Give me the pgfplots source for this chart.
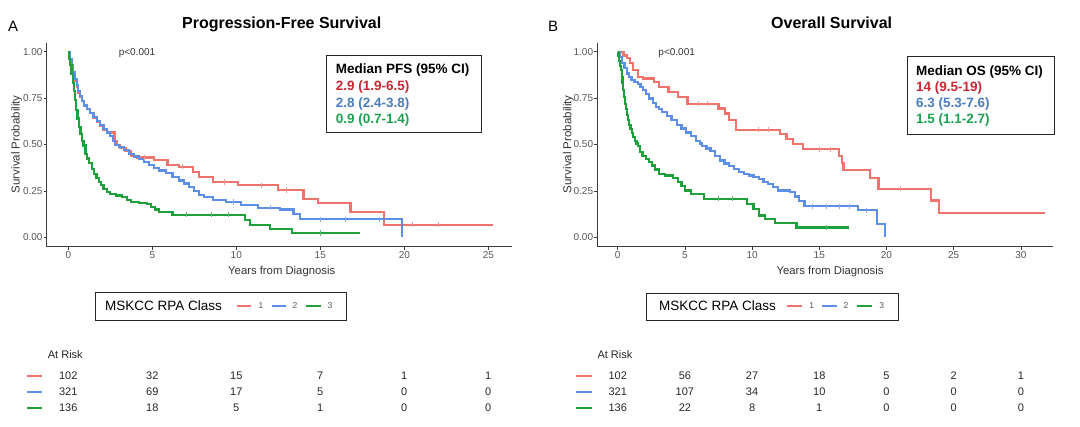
\documentclass[border=0pt]{standalone}
\usepackage{pgfplots}
\pgfplotsset{compat=1.18}
\usepackage{fontspec}
\setmainfont{Liberation Sans}
\definecolor{cR}{RGB}{240,116,110}
\definecolor{cB}{RGB}{94,143,230}
\definecolor{cG}{RGB}{30,160,60}
\definecolor{tR}{RGB}{200,40,50}
\definecolor{tB}{RGB}{75,125,190}
\definecolor{tG}{RGB}{30,160,80}
\definecolor{axg}{RGB}{60,60,60}
\definecolor{tkg}{RGB}{85,85,85}

\pgfplotstableread{
t s
0 1.00
0.1 0.96
0.2 0.92
0.3 0.88
0.4 0.845
0.5 0.81
0.6 0.78
0.7 0.755
0.8 0.735
0.95 0.71
1.1 0.69
1.3 0.67
1.5 0.645
1.7 0.62
1.9 0.60
2.1 0.58
2.3 0.565
2.75 0.52
2.9 0.497
3.1 0.48
3.4 0.465
3.75 0.44
4.1 0.43
5.1 0.415
5.9 0.39
6.6 0.38
7.4 0.35
7.8 0.325
8.6 0.298
10.1 0.281
12.5 0.255
14.0 0.208
14.85 0.185
16.8 0.138
18.8 0.068
25.3 0.068
}\pfsR
\pgfplotstableread{
t s
0 1.00
0.1 0.96
0.2 0.93
0.3 0.89
0.4 0.855
0.5 0.82
0.6 0.79
0.7 0.76
0.8 0.735
0.95 0.71
1.1 0.69
1.3 0.67
1.5 0.65
1.7 0.625
1.9 0.605
2.1 0.585
2.3 0.565
2.5 0.545
2.65 0.52
2.8 0.497
3.0 0.485
3.3 0.47
3.6 0.45
3.9 0.435
4.2 0.42
4.5 0.405
4.8 0.39
5.1 0.375
5.4 0.36
5.8 0.345
6.2 0.325
6.6 0.306
6.9 0.29
7.2 0.27
7.5 0.25
7.8 0.23
8.1 0.215
8.6 0.203
9.4 0.19
10.3 0.176
11.3 0.159
12.6 0.15
13.4 0.124
13.8 0.098
19.85 0.0
}\pfsB
\pgfplotstableread{
t s
0 1.00
0.05 0.96
0.10 0.93
0.19 0.88
0.26 0.83
0.33 0.79
0.40 0.74
0.48 0.685
0.55 0.64
0.63 0.595
0.73 0.555
0.83 0.52
0.90 0.495
1.02 0.45
1.12 0.425
1.25 0.40
1.40 0.37
1.54 0.34
1.68 0.32
1.83 0.30
1.95 0.28
2.10 0.26
2.30 0.245
2.50 0.234
2.85 0.225
3.20 0.216
3.50 0.20
3.75 0.19
4.20 0.183
4.70 0.178
4.90 0.162
5.15 0.15
5.40 0.135
6.20 0.122
10.50 0.093
10.80 0.068
12.00 0.046
13.30 0.023
17.35 0.023
}\pfsG
\pgfplotstableread{
t s
0 1.00
0.43 0.98
0.67 0.964
0.91 0.937
1.15 0.90
1.50 0.865
1.87 0.856
2.70 0.838
3.06 0.81
3.78 0.784
4.50 0.757
5.20 0.72
7.50 0.694
8.00 0.667
8.30 0.63
8.80 0.58
12.10 0.555
12.56 0.53
13.05 0.503
13.80 0.475
16.46 0.44
16.70 0.40
16.80 0.362
18.80 0.318
19.40 0.261
23.30 0.198
23.90 0.13
31.80 0.13
}\osR
\pgfplotstableread{
t s
0 1.00
0.15 0.97
0.31 0.937
0.5 0.91
0.67 0.883
0.85 0.865
1.03 0.847
1.25 0.838
1.50 0.825
1.7 0.81
1.87 0.795
2.1 0.77
2.34 0.748
2.6 0.725
2.82 0.703
3.05 0.69
3.30 0.676
3.65 0.655
4.00 0.63
4.4 0.605
4.74 0.586
5.1 0.565
5.45 0.545
5.8 0.52
6.1 0.505
6.3 0.49
6.6 0.478
6.9 0.465
7.25 0.44
7.60 0.414
7.95 0.398
8.30 0.382
8.65 0.366
9.00 0.351
9.40 0.34
9.76 0.333
10.10 0.325
10.50 0.315
10.85 0.30
11.20 0.288
11.55 0.27
11.90 0.252
12.80 0.244
13.20 0.22
13.50 0.194
13.90 0.168
17.90 0.145
19.30 0.07
19.90 0.0
}\osB
\pgfplotstableread{
t s
0 1.00
0.06 0.975
0.12 0.95
0.18 0.925
0.24 0.90
0.30 0.865
0.36 0.83
0.42 0.795
0.48 0.757
0.55 0.72
0.62 0.69
0.70 0.66
0.79 0.63
0.87 0.605
0.95 0.585
1.05 0.56
1.15 0.54
1.28 0.52
1.40 0.505
1.50 0.49
1.63 0.46
1.85 0.44
2.10 0.423
2.35 0.405
2.58 0.387
2.80 0.365
3.06 0.342
3.54 0.333
4.10 0.32
4.50 0.297
4.75 0.275
5.00 0.252
5.45 0.234
6.40 0.207
9.64 0.18
10.10 0.153
10.50 0.117
10.96 0.099
11.70 0.078
13.30 0.053
17.20 0.053
}\osG

\begin{document}
\begin{tikzpicture}[x=1pt,y=1pt]
\path[use as bounding box] (0,0) rectangle (1080,427);
\pgfplotsset{
  km/.style={
    scale only axis, anchor=south west, height=204pt,
    ymin=-0.0506, ymax=1.0485,
    axis x line*=bottom, axis y line*=left,
    axis line style={-, axg, line width=0.8pt},
    tick align=outside, major tick length=3pt,
    tick style={axg, line width=0.7pt},
    ytick={0,0.25,0.5,0.75,1},
    yticklabels={0.00,0.25,0.50,0.75,1.00},
    /pgf/number format/assume math mode=true,
    ticklabel style={font=\fontsize{10}{12}\selectfont, text=tkg},
    yticklabel style={inner xsep=1pt},
    xticklabel style={inner ysep=2pt},
    clip=false,
  },
  kml/.style={const plot mark left, no marks, line width=2.2pt, line join=miter},
  cens/.style={only marks, mark=|, mark size=2.6pt, mark options={line width=0.7pt}},
}
% ---------------- Panel A ----------------
\begin{axis}[km, at={(46.7pt,180.3pt)}, width=465.3pt,
  xmin=-1.286, xmax=26.41, xtick={0,5,10,15,20,25}]
\addplot[kml, cR] table[x=t,y=s]{\pfsR};
\addplot[kml, cB] table[x=t,y=s]{\pfsB};
\addplot[kml, cG] table[x=t,y=s]{\pfsG};
\addplot[cens, cR!75] coordinates {(4.5,0.43) (6.8,0.38) (9.3,0.298) (11.5,0.281) (13.0,0.255) (20.5,0.068) (22,0.068)};
\addplot[cens, cB!75] coordinates {(9.8,0.19) (12.0,0.159) (15.0,0.098) (16.5,0.098) (18.5,0.098)};
\addplot[cens, cG!75] coordinates {(7.0,0.122) (8.5,0.122) (9.5,0.122) (15.0,0.023)};
\end{axis}
% ---------------- Panel B ----------------
\begin{axis}[km, at={(597.3pt,180.3pt)}, width=455.7pt,
  xmin=-1.518, xmax=32.39, xtick={0,5,10,15,20,25,30}]
\addplot[kml, cR] table[x=t,y=s]{\osR};
\addplot[kml, cB] table[x=t,y=s]{\osB};
\addplot[kml, cG] table[x=t,y=s]{\osG};
\addplot[cens, cR!75] coordinates {(6.0,0.72) (6.7,0.72) (10.5,0.58) (11.2,0.58) (15.0,0.475) (15.8,0.475) (21.0,0.261)};
\addplot[cens, cB!75] coordinates {(14.5,0.168) (15.5,0.168) (16.5,0.168) (17.2,0.168) (18.5,0.145)};
\addplot[cens, cG!75] coordinates {(7.5,0.207) (8.5,0.207) (15.5,0.053)};
\end{axis}

% ---------- at risk numbers ----------
\tikzset{rk/.style={font=\fontsize{11}{13}\selectfont, inner sep=0pt, text=black!85}}
\foreach \xx/\a/\b/\c in {0/102/321/136, 5/32/69/18, 10/15/17/5, 15/7/5/1, 20/1/0/0, 25/1/0/0}{
  \node[rk] at ({68.3+16.8*\xx},51) {\a};
  \node[rk] at ({68.3+16.8*\xx},35.3) {\b};
  \node[rk] at ({68.3+16.8*\xx},19.3) {\c};
}
\foreach \xx/\a/\b/\c in {0/102/321/136, 5/56/107/22, 10/27/34/8, 15/18/10/1, 20/5/0/0, 25/2/0/0, 30/1/0/0}{
  \node[rk] at ({617.7+13.44*\xx},51) {\a};
  \node[rk] at ({617.7+13.44*\xx},35.3) {\b};
  \node[rk] at ({617.7+13.44*\xx},19.3) {\c};
}

% ---------- titles and labels ----------
\node[anchor=base west, inner sep=0pt, font=\fontsize{15}{17}\selectfont] at (8,395) {A};
\node[anchor=base west, inner sep=0pt, font=\fontsize{15}{17}\selectfont] at (548,395) {B};
\node[anchor=base, inner sep=0pt, font=\bfseries\fontsize{16}{18}\selectfont] at (281.7,398.5) {Progression-Free Survival};
\node[anchor=base, inner sep=0pt, font=\bfseries\fontsize{16}{18}\selectfont] at (831.7,398.5) {Overall Survival};
\node[anchor=base, inner sep=0pt, font=\fontsize{10}{12}\selectfont, text=black!80] at (137,371) {p<0.001};
\node[anchor=base, inner sep=0pt, font=\fontsize{10}{12}\selectfont, text=black!80] at (676.7,371) {p<0.001};
\node[rotate=90, inner sep=0pt, font=\fontsize{11.5}{13}\selectfont, text=black!80] at (16.7,282.8) {Survival Probability};
\node[rotate=90, inner sep=0pt, font=\fontsize{11.5}{13}\selectfont, text=black!80] at (568.3,282.8) {Survival Probability};
\node[anchor=base, inner sep=0pt, font=\fontsize{11.3}{13}\selectfont, text=black!80] at (281.7,152) {Years from Diagnosis};
\node[anchor=base, inner sep=0pt, font=\fontsize{11.3}{13}\selectfont, text=black!80] at (830,152) {Years from Diagnosis};

% ---------- median boxes ----------
\draw[line width=0.9pt, black!85] (326.7,372) rectangle (481,295);
\node[anchor=base west, inner sep=0pt, font=\bfseries\fontsize{13.5}{15}\selectfont] at (335.7,353.1) {Median PFS (95\% CI)};
\node[anchor=base west, inner sep=0pt, font=\bfseries\fontsize{13.5}{15}\selectfont, text=tR] at (335.7,336.4) {2.9 (1.9-6.5)};
\node[anchor=base west, inner sep=0pt, font=\bfseries\fontsize{13.5}{15}\selectfont, text=tB] at (335.7,319.8) {2.8 (2.4-3.8)};
\node[anchor=base west, inner sep=0pt, font=\bfseries\fontsize{13.5}{15}\selectfont, text=tG] at (335.7,303.1) {0.9 (0.7-1.4)};
\draw[line width=0.9pt, black!85] (907.3,371) rectangle (1054.3,293);
\node[anchor=base west, inner sep=0pt, font=\bfseries\fontsize{13.5}{15}\selectfont] at (916,351.5) {Median OS (95\% CI)};
\node[anchor=base west, inner sep=0pt, font=\bfseries\fontsize{13.5}{15}\selectfont, text=tR] at (916,335.5) {14 (9.5-19)};
\node[anchor=base west, inner sep=0pt, font=\bfseries\fontsize{13.5}{15}\selectfont, text=tB] at (916,319.5) {6.3 (5.3-7.6)};
\node[anchor=base west, inner sep=0pt, font=\bfseries\fontsize{13.5}{15}\selectfont, text=tG] at (916,303.1) {1.5 (1.1-2.7)};

% ---------- class legends ----------
\draw[line width=0.9pt, black!85] (95,134.3) rectangle (346.7,107);
\node[anchor=west, inner sep=0pt, font=\fontsize{13.5}{15}\selectfont] at (105,121) {MSKCC RPA Class};
\draw[cR, line width=1.8pt] (236.7,121) -- (250.7,121);
\node[inner sep=0pt, font=\fontsize{8.5}{10}\selectfont, text=tkg] at (261,121) {1};
\draw[cB, line width=1.8pt] (271.7,121) -- (286,121);
\node[inner sep=0pt, font=\fontsize{8.5}{10}\selectfont, text=tkg] at (295,121) {2};
\draw[cG, line width=1.8pt] (306,121) -- (320.7,121);
\node[inner sep=0pt, font=\fontsize{8.5}{10}\selectfont, text=tkg] at (330,121) {3};

\draw[line width=0.9pt, black!85] (646,134) rectangle (898.3,107);
\node[anchor=west, inner sep=0pt, font=\fontsize{13.5}{15}\selectfont] at (659,121) {MSKCC RPA Class};
\draw[cR, line width=1.8pt] (787.3,121) -- (801.7,121);
\node[inner sep=0pt, font=\fontsize{8.5}{10}\selectfont, text=tkg] at (811.7,121) {1};
\draw[cB, line width=1.8pt] (822.3,121) -- (836.7,121);
\node[inner sep=0pt, font=\fontsize{8.5}{10}\selectfont, text=tkg] at (846,121) {2};
\draw[cG, line width=1.8pt] (856.7,121) -- (871.7,121);
\node[inner sep=0pt, font=\fontsize{8.5}{10}\selectfont, text=tkg] at (881.7,121) {3};

% ---------- at risk ----------
\node[anchor=base west, inner sep=0pt, font=\fontsize{11}{13}\selectfont, text=black!85] at (47.7,68) {At Risk};
\node[anchor=base west, inner sep=0pt, font=\fontsize{11}{13}\selectfont, text=black!85] at (597.3,68) {At Risk};
\draw[cR, line width=1.8pt] (27,51) -- (42,51);
\draw[cB, line width=1.8pt] (27,35.3) -- (42,35.3);
\draw[cG, line width=1.8pt] (27,19.3) -- (42,19.3);
\draw[cR, line width=1.8pt] (575.7,51) -- (592.3,51);
\draw[cB, line width=1.8pt] (575.7,35.3) -- (592.3,35.3);
\draw[cG, line width=1.8pt] (575.7,19.3) -- (592.3,19.3);
\end{tikzpicture}
\end{document}
